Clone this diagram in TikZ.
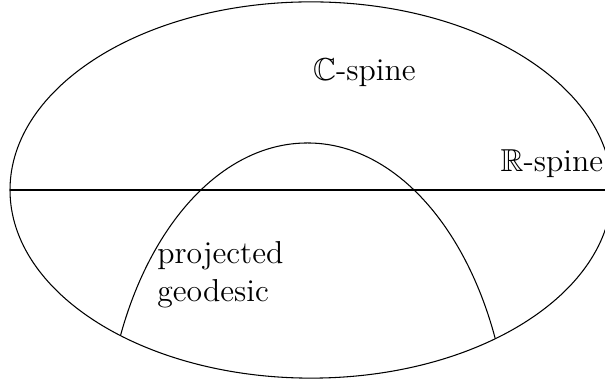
\documentclass[tikz,border=0pt,12pt]{standalone}
\usepackage{amssymb}
\usepackage{tikz}
\usetikzlibrary{positioning}

\begin{document}
\begin{tikzpicture}[
  curve/.style={line width=0.4pt},
  lbl/.style={inner sep=0pt, font=\normalsize}
]
  \clip (-4.133,-2.565) rectangle (3.907,2.525);

  % Boundary and real spine
  \draw[curve] (0,0) ellipse (4cm and 2.5cm);
  \coordinate (west) at (-4,0);
  \coordinate (east) at (4,0);
  \draw[curve] (west) -- (east);

  % Projected geodesic (cut off by the boundary)
  \coordinate (gcenter) at (-0.047,-3.58);
  \begin{scope}
    \clip (0,0) ellipse (4cm and 2.5cm);
    \draw[curve] (gcenter) ellipse (2.699cm and 4.205cm);
  \end{scope}

  % Labels
  \node[lbl, anchor=base] (cspine) at (0.71,1.45) {$\mathbb{C}$-spine};
  \node[lbl, anchor=base east] (rspine) at (3.89,0.24) {$\mathbb{R}$-spine};
  \node[lbl, anchor=north west, align=left] (geod) at (-2.049,-0.678) {projected\\geodesic};
\end{tikzpicture}
\end{document}
